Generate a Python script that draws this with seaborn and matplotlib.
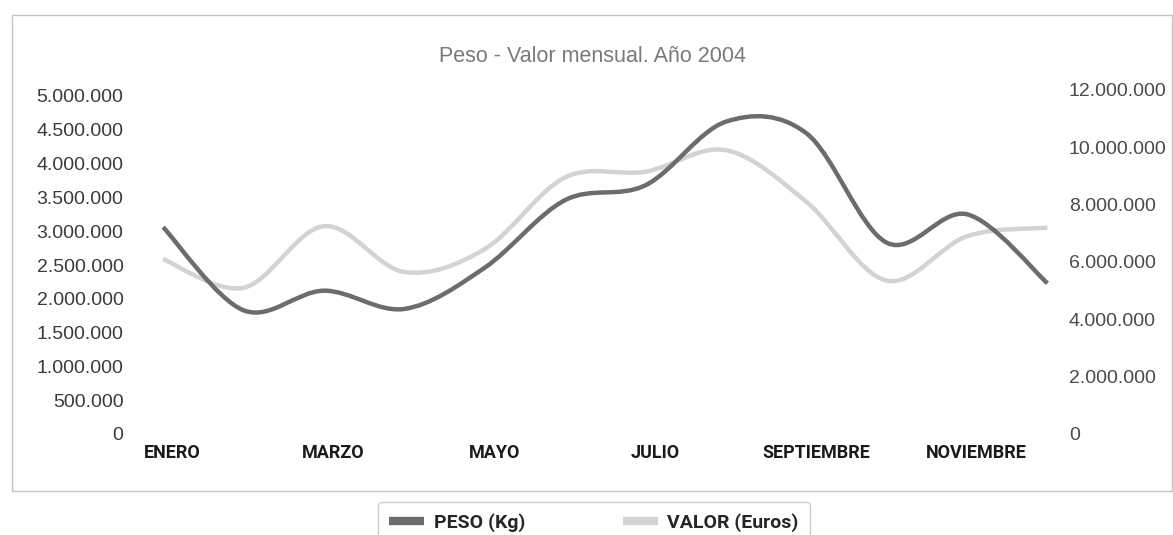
import numpy as np
import matplotlib
matplotlib.use("Agg")
import matplotlib.pyplot as plt
import seaborn as sns
from matplotlib.path import Path
from matplotlib.patches import PathPatch, Rectangle
from matplotlib.lines import Line2D

# data
meses = ["ENERO", "FEBRERO", "MARZO", "ABRIL", "MAYO", "JUNIO", "JULIO",
         "AGOSTO", "SEPTIEMBRE", "OCTUBRE", "NOVIEMBRE", "DICIEMBRE"]
peso_kg = [3060000, 1830000, 2120000, 1850000, 2460000, 3460000,
           3680000, 4620000, 4450000, 2830000, 3250000, 2230000]
valor_eur = [6100000, 5100000, 7250000, 5650000, 6450000, 8950000,
             9150000, 9900000, 8100000, 5350000, 6900000, 7200000]
ticks_izq = [0, 500000, 1000000, 1500000, 2000000, 2500000, 3000000,
             3500000, 4000000, 4500000, 5000000]
ticks_der = [0, 2000000, 4000000, 6000000, 8000000, 10000000, 12000000]

sns.set_theme(style="white")
plt.rcParams["font.family"] = ["Liberation Sans", "DejaVu Sans"]
cond = ["Roboto", "Liberation Sans", "DejaVu Sans"]

col_peso = "#6c6c6c"
col_valor = "#d3d3d3"


def smooth_path(xs, ys):
    # bezier through every point (like excel smoothed lines)
    n = len(xs)
    verts = [(xs[0], ys[0])]
    codes = [Path.MOVETO]
    for i in range(n - 1):
        a = max(i - 1, 0)
        b = min(i + 2, n - 1)
        c1 = (xs[i] + (xs[i + 1] - xs[a]) / 6, ys[i] + (ys[i + 1] - ys[a]) / 6)
        c2 = (xs[i + 1] - (xs[b] - xs[i]) / 6, ys[i + 1] - (ys[b] - ys[i]) / 6)
        verts += [c1, c2, (xs[i + 1], ys[i + 1])]
        codes += [Path.CURVE4] * 3
    return Path(verts, codes)


def fmt(v):
    return f"{v:,.0f}".replace(",", ".")


fig = plt.figure(figsize=(11.73, 5.35), dpi=100)
ax = fig.add_axes([143 / 1173, 101 / 535, 924.6 / 1173, 344 / 535])
ax2 = ax.twinx()

x = np.arange(len(meses))
ax.add_patch(PathPatch(smooth_path(x, peso_kg), fill=False, edgecolor=col_peso,
                       lw=3.2, capstyle="butt", zorder=3))
ax2.add_patch(PathPatch(smooth_path(x, valor_eur), fill=False, edgecolor=col_valor,
                        lw=3.2, capstyle="butt", zorder=2))
ax.set_zorder(ax2.get_zorder() + 1)
ax.patch.set_visible(False)

ax.set_xlim(-0.25, 11.25)
ax.set_ylim(0, 5000000 * 344 / 338)
ax2.set_ylim(0, 12000000)

# month labels sit a little right of the points in the original
ax.set_xticks(x[::2] + 0.12)
ax.set_xticklabels(meses[::2], fontfamily=cond, fontweight="bold",
                   fontsize=13, color="#1a1a1a")
ax.set_yticks(ticks_izq)
ax.set_yticklabels([fmt(v) for v in ticks_izq], fontsize=14, color="#3a3a3a")
ax2.set_yticks(ticks_der)
ax2.set_yticklabels([fmt(v) for v in ticks_der], fontsize=14, color="#4a4a4a")
ax.tick_params(axis="x", length=0, pad=7)
ax.tick_params(axis="y", length=0, pad=14)
ax2.tick_params(axis="y", length=0, pad=1)
ax.grid(False)
ax2.grid(False)
for a in (ax, ax2):
    sns.despine(ax=a, left=True, right=True, top=True, bottom=True)

fig.text(0.505, 1 - 57 / 535, "Peso - Valor mensual. Año 2004", ha="center",
         va="center", fontsize=15.5, color="#7a7a7a")

# outer frame
fig.patches.append(Rectangle((12 / 1173, 1 - 491 / 535), 1160 / 1173, 476 / 535,
                             transform=fig.transFigure, fill=False,
                             edgecolor="#c4c4c4", lw=1))

handles = [Line2D([], [], color=col_peso, lw=6, solid_capstyle="butt"),
           Line2D([], [], color=col_valor, lw=6, solid_capstyle="butt")]
leg = fig.legend(handles, ["PESO (Kg)", "VALOR (Euros)"], loc="upper center",
                 bbox_to_anchor=(594 / 1173, 1 - 492 / 535), ncol=2,
                 frameon=True, fancybox=True, handlelength=1.8,
                 handletextpad=0.5, columnspacing=5.0, borderpad=0.6,
                 prop={"family": cond, "weight": "bold", "size": 14})
leg.get_frame().set_edgecolor("#d0d0d0")
leg.get_frame().set_linewidth(1)
leg.get_frame().set_facecolor("white")
leg.get_frame().set_alpha(1)

fig.savefig("out.png", dpi=100)
